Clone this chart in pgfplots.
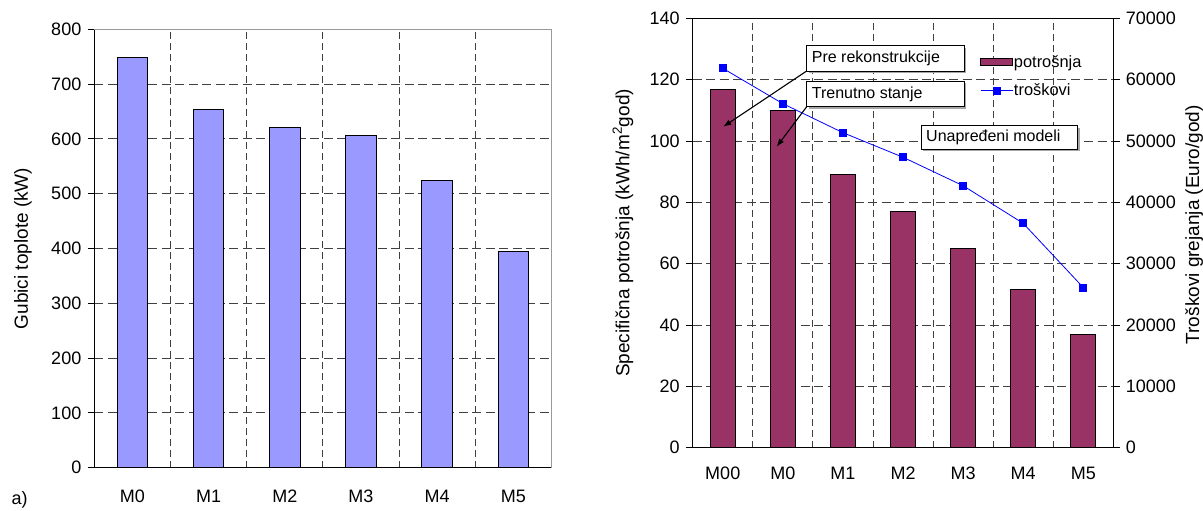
\documentclass[border=0pt]{standalone}
\usepackage{fontspec}
\setmainfont{Liberation Sans}
\usepackage{pgfplots}
\pgfplotsset{compat=1.18}
\usetikzlibrary{arrows.meta}
\definecolor{lbar}{HTML}{9999FF}
\definecolor{rbar}{HTML}{993366}
\definecolor{gridc}{HTML}{404040}
\pgfplotsset{
  mystyle/.style={
    scale only axis,
    clip=false,
    /pgf/number format/assume math mode=true,
    /pgf/number format/1000 sep={},
    scaled y ticks=false,
    tick label style={font=\fontsize{18bp}{21bp}\selectfont},
    label style={font=\fontsize{19bp}{22bp}\selectfont},
    major tick length=6.5bp,
    minor tick length=6.5bp,
    tick align=outside,
    tick style={black, line width=0.8bp},
    axis line style={black, line width=0.9bp},
    ymajorgrids,
    xminorgrids,
    major grid style={gridc, line width=0.8bp, dash pattern=on 9bp off 4.5bp},
    minor grid style={gridc, line width=0.8bp, dash pattern=on 7bp off 4bp},
    xtick style={draw=none},
    yticklabel style={xshift=-3bp},
  },
  linelegend/.style={legend image code/.code={\draw[mark repeat=2, mark phase=2, ##1] plot coordinates {(0bp,0bp) (16bp,0bp) (32bp,0bp)};}},
  barlegend/.style={legend image code/.code={\draw[fill=rbar, draw=black, line width=0.8bp] (0bp,-3.5bp) rectangle (32bp,3.5bp);}},
}
\begin{document}
\begin{tikzpicture}[x=1bp,y=1bp]
\useasboundingbox (0,0) rectangle (1203,511);

% ---------- left chart ----------
\begin{axis}[mystyle,
  at={(94.3bp,43.3bp)}, anchor=south west,
  width=457.1bp, height=438.4bp,
  axis x line*=bottom, axis y line*=left,
  xmin=-0.5, xmax=5.5, ymin=0, ymax=800,
  ytick={0,100,...,800},
  xtick={0,...,5}, xticklabels={M0,M1,M2,M3,M4,M5},
  xticklabel style={yshift=-12.5bp},
  minor xtick={-0.5,0.5,...,5.5},
  ylabel={Gubici toplote (kW)},
  ylabel style={at={(axis description cs:-0.156,0.5)}, anchor=center},
]
\draw[black!40, line width=0.9bp] (rel axis cs:0,1) -- (rel axis cs:1,1) -- (rel axis cs:1,0);
\addplot[ybar, bar width=0.4, fill=lbar, draw=black, line width=0.8bp]
  coordinates {(0,748) (1,653) (2,621) (3,607) (4,524) (5,395)};
\end{axis}
\node[anchor=west, font=\fontsize{18bp}{21bp}\selectfont] at (8,11) {a)};

% ---------- right chart: bars ----------
\begin{axis}[mystyle,
  at={(692.7bp,63.4bp)}, anchor=south west,
  width=420.6bp, height=429.3bp,
  xtick pos=bottom, ytick pos=left,
  xmin=-0.5, xmax=6.5, ymin=0, ymax=140,
  ytick={0,20,...,140},
  xtick={0,...,6}, xticklabels={M00,M0,M1,M2,M3,M4,M5},
  xticklabel style={yshift=-9.5bp},
  minor xtick={-0.5,0.5,...,6.5},
  ylabel={Specifična potrošnja (kWh/m\textsuperscript{2}god)},
  ylabel style={at={(axis description cs:-0.166,0.5)}, anchor=center},
]
\addplot[ybar, bar width=0.42, fill=rbar, draw=black, line width=0.8bp]
  coordinates {(0,116.8) (1,110.0) (2,89.0) (3,76.9) (4,65.0) (5,51.6) (6,37.0)};
\end{axis}

% ---------- right chart: costs ----------
\begin{axis}[
  scale only axis, clip=false,
  at={(692.7bp,63.4bp)}, anchor=south west,
  width=420.6bp, height=429.3bp,
  /pgf/number format/assume math mode=true,
  /pgf/number format/1000 sep={},
  scaled y ticks=false,
  tick label style={font=\fontsize{18bp}{21bp}\selectfont},
  label style={font=\fontsize{19bp}{22bp}\selectfont},
  major tick length=6.5bp, tick align=outside,
  tick style={black, line width=0.8bp},
  axis line style={black, line width=0.9bp},
  axis x line=none, axis y line*=right,
  xmin=-0.5, xmax=6.5, ymin=0, ymax=70000,
  ytick={0,10000,...,70000},
  yticklabel style={xshift=2.5bp},
  ylabel={Troškovi grejanja (Euro/god)},
  ylabel style={at={(axis description cs:1.192,0.519)}, anchor=center},
  legend style={draw=none, fill=none, at={(axis description cs:0.683,0.916)}, anchor=north west,
    font=\fontsize{16.4bp}{19bp}\selectfont, inner sep=0pt, row sep=13bp,
    nodes={inner sep=1bp}},
  legend cell align=left,
  linelegend,
]
\addlegendimage{barlegend}
\addlegendentry{potrošnja}
\addplot[blue, line width=0.8bp, mark=square*, mark size=3.5bp, mark options={fill=blue, draw=blue}]
  coordinates {(0,61850) (1,56080) (2,51350) (3,47340) (4,42700) (5,36570) (6,26100)};
\addlegendentry{troškovi}
\end{axis}

% ---------- annotations ----------
\begin{scope}[font=\fontsize{16bp}{19bp}\selectfont]
\fill[black!35] (808.7,438) rectangle (966,463.3);
\draw[black, line width=0.8bp, fill=white] (806.7,440) rectangle (964,465.3);
\node[anchor=west, inner sep=0pt] at (811.7,452.6) {Pre rekonstrukcije};
\fill[black!35] (808.7,402.3) rectangle (966,428);
\draw[black, line width=0.8bp, fill=white] (806.7,404.3) rectangle (964,430);
\node[anchor=west, inner sep=0pt] at (811.7,417.1) {Trenutno stanje};
\fill[black!35] (923,359.7) rectangle (1079.7,383.3);
\draw[black, line width=0.8bp, fill=white] (921,361.7) rectangle (1077.7,385.3);
\node[anchor=west, inner sep=0pt] at (926,373.5) {Unapređeni modeli};
\draw[black, line width=1.1bp, -{Latex[length=8bp,width=6bp]}] (806.7,440) -- (723.3,384.3);
\draw[black, line width=1.1bp, -{Latex[length=8bp,width=6bp]}] (806.7,404.3) -- (776.7,364.3);
\end{scope}
\end{tikzpicture}
\end{document}
